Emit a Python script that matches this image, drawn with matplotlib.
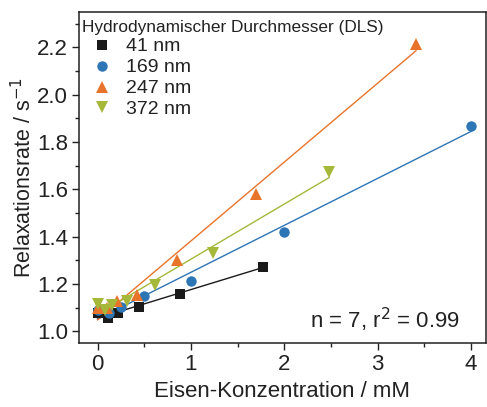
import numpy as np
import matplotlib
matplotlib.use("Agg")
import matplotlib.pyplot as plt
from matplotlib.ticker import MultipleLocator

plt.rcParams['font.family'] = ['Liberation Sans', 'DejaVu Sans']

# Data (Eisen-Konzentration / mM, Relaxationsrate / s^-1)
x_41 = [0.0, 0.11, 0.22, 0.44, 0.88, 1.77]
y_41 = [1.080, 1.055, 1.076, 1.105, 1.160, 1.274]

x_169 = [0.0, 0.125, 0.25, 0.5, 1.0, 2.0, 4.0]
y_169 = [1.09, 1.08, 1.105, 1.148, 1.212, 1.419, 1.869]

x_247 = [0.0, 0.106, 0.21, 0.425, 0.85, 1.70, 3.41]
y_247 = [1.100, 1.097, 1.128, 1.156, 1.300, 1.581, 2.214]

x_372 = [0.0, 0.078, 0.155, 0.31, 0.62, 1.24, 2.48]
y_372 = [1.114, 1.09, 1.11, 1.13, 1.198, 1.330, 1.672]

labels = ['41 nm', '169 nm', '247 nm', '372 nm']
colors = ['#1a1a1a', '#2e75b6', '#e8742c', '#a5b83a']
markers = ['s', 'o', '^', 'v']
msizes = [6.5, 7.5, 8, 8]

fig = plt.figure(figsize=(4.87, 4.07), dpi=100)
ax = fig.add_axes([0.162, 0.1565, 0.836, 0.8145])

series = [(x_41, y_41), (x_169, y_169), (x_247, y_247), (x_372, y_372)]
for (xs, ys), lab, c, m, ms in zip(series, labels, colors, markers, msizes):
    xs = np.array(xs); ys = np.array(ys)
    k, d = np.polyfit(xs, ys, 1)
    xf = np.array([xs.min(), xs.max()])
    ax.plot(xf, k * xf + d, color=c, lw=1.0, zorder=2)
    ax.plot(xs, ys, linestyle='none', marker=m, ms=ms, color=c,
            markeredgewidth=0, label=lab, zorder=3)

ax.set_xlim(-0.2, 4.16)
ax.set_ylim(0.95, 2.35)
ax.xaxis.set_major_locator(MultipleLocator(1))
ax.xaxis.set_minor_locator(MultipleLocator(0.5))
ax.yaxis.set_major_locator(MultipleLocator(0.2))
ax.yaxis.set_minor_locator(MultipleLocator(0.1))
ax.set_yticks([1.0, 1.2, 1.4, 1.6, 1.8, 2.0, 2.2])
ax.set_yticklabels(['1.0', '1.2', '1.4', '1.6', '1.8', '2.0', '2.2'])
ax.tick_params(axis='both', which='major', direction='out', length=5, width=1,
               labelsize=16, colors='#222222', pad=3)
ax.tick_params(axis='both', which='minor', direction='out', length=3, width=1,
               colors='#222222')
for s in ax.spines.values():
    s.set_linewidth(1.1)
    s.set_color('#222222')

ax.set_xlabel('Eisen-Konzentration / mM', fontsize=16, color='#222222', labelpad=4)
ax.set_ylabel('Relaxationsrate / s$^{-1}$', fontsize=15.5, color='#222222', labelpad=0.5)

leg = ax.legend(title='Hydrodynamischer Durchmesser (DLS)', loc='upper left',
                bbox_to_anchor=(-0.011, 1.0),
                frameon=False, fontsize=14, title_fontsize=12.4,
                borderaxespad=0.1, borderpad=0.3, handletextpad=0.2,
                labelspacing=0.17, alignment='left', handlelength=2.05)
for t in leg.get_texts():
    t.set_color('#222222')
leg.get_title().set_color('#222222')

ax.text(0.936, 0.07, 'n = 7, r$^2$ = 0.99', transform=ax.transAxes,
        ha='right', va='center', fontsize=16, color='#222222')

fig.savefig('out.png', dpi=100)
